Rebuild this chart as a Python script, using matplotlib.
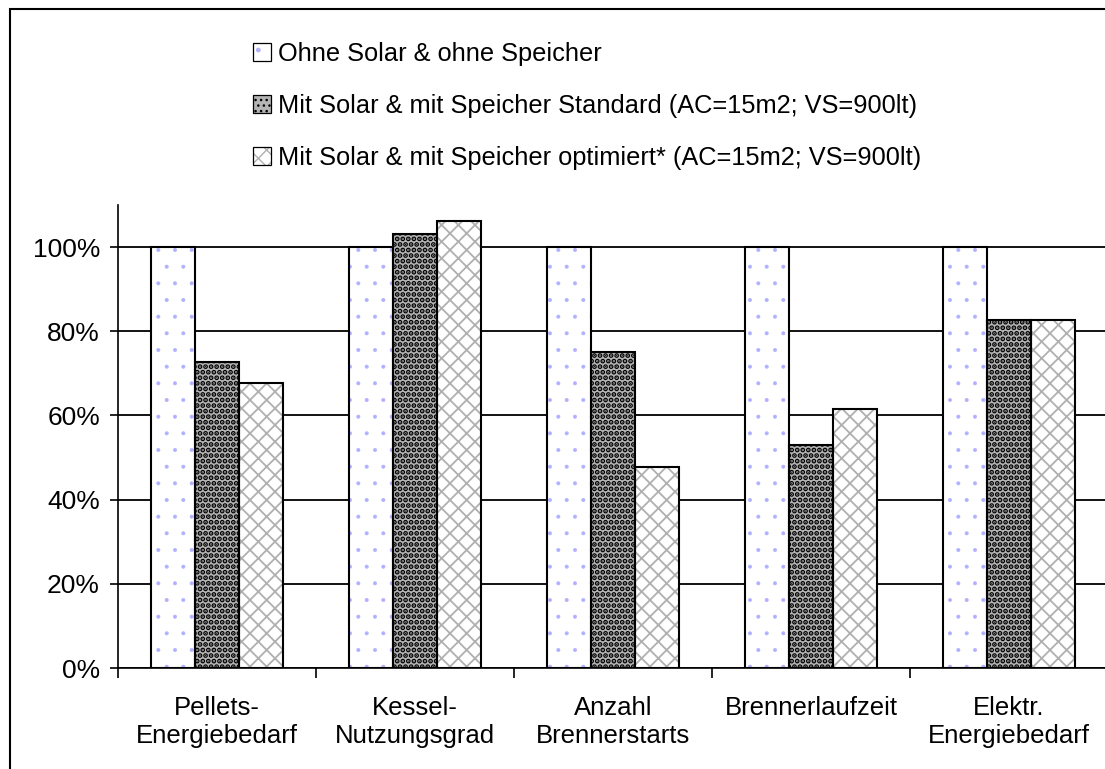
import numpy as np
import matplotlib.pyplot as plt
from matplotlib.patches import Rectangle, Patch

plt.rcParams['font.family'] = ['Liberation Sans', 'DejaVu Sans']

categories = ["Pellets-\nEnergiebedarf", "Kessel-\nNutzungsgrad", "Anzahl\nBrennerstarts",
              "Brennerlaufzeit", "Elektr.\nEnergiebedarf"]
ohne = [100, 100, 100, 100, 100]
standard = [72.7, 103.1, 75.1, 53.0, 82.7]
optimiert = [67.6, 106.2, 47.7, 61.5, 82.7]
labels = ["Ohne Solar & ohne Speicher",
          "Mit Solar & mit Speicher Standard (AC=15m2; VS=900lt)",
          "Mit Solar & mit Speicher optimiert* (AC=15m2; VS=900lt)"]

# fill, hatch, hatch colour, hatch linewidth
styles = [("white", ".", "#b0b0ff", 0.4),
          ("#b4b4b4", "...", "black", 2.5),
          ("white", "xx", "#b0b0b0", 1.3)]

W, H = 1105, 769
fig = plt.figure(figsize=(W / 100, H / 100), dpi=100)
ax = fig.add_axes([118 / W, 1 - 668 / H, 990 / W, (668 - 205) / H])

x = np.arange(len(categories))
bw = 44 / 198
handles = []
for i, (vals, (fc, hatch, hc, hlw)) in enumerate(zip([ohne, standard, optimiert], styles)):
    pos = x + (i - 1) * bw
    with plt.rc_context({'hatch.linewidth': hlw}):
        ax.bar(pos, vals, bw, color=fc, hatch=hatch, edgecolor=hc, linewidth=0, zorder=3)
        inner = Patch(facecolor=fc, hatch=hatch, edgecolor=hc, linewidth=0)
    frame = Patch(fill=False, edgecolor="black", linewidth=0.9)
    handles.append((inner, frame))
    ax.bar(pos, vals, bw, fill=False, edgecolor="black", linewidth=1.5, zorder=4)

ax.set_xlim(-0.5, len(categories) - 0.5)
ax.set_ylim(0, 110)
ax.set_yticks(np.arange(0, 101, 20))
ax.set_yticklabels([f"{v}%" for v in range(0, 101, 20)], fontsize=19)
ax.set_xticks(x)
ax.set_xticklabels(categories, fontsize=18.5, linespacing=1.2)
ax.set_xticks(np.arange(len(categories) + 1) - 0.5, minor=True)
ax.tick_params(axis='x', which='major', length=0, pad=20)
ax.tick_params(axis='x', which='minor', length=7, width=1.2, direction='out')
ax.tick_params(axis='y', length=6, width=1.2, direction='out', pad=7)
ax.yaxis.grid(True, color="black", linewidth=1.3, zorder=0)
ax.set_axisbelow(True)
for s in ("top", "right"):
    ax.spines[s].set_visible(False)
for s in ("left", "bottom"):
    ax.spines[s].set_linewidth(1.2)

fig.legend(handles, labels, loc="upper left", bbox_to_anchor=(230 / W, 1 - 19 / H),
           frameon=False, fontsize=18.3, handlelength=0.7, handleheight=0.7,
           handletextpad=0.3, labelspacing=1.1)

fig.patches.append(Rectangle((10 / W, -0.1), 1.2, 1.1 - 9 / H, transform=fig.transFigure,
                             fill=False, edgecolor="black", linewidth=1.5))

fig.savefig("out.png", dpi=100)
